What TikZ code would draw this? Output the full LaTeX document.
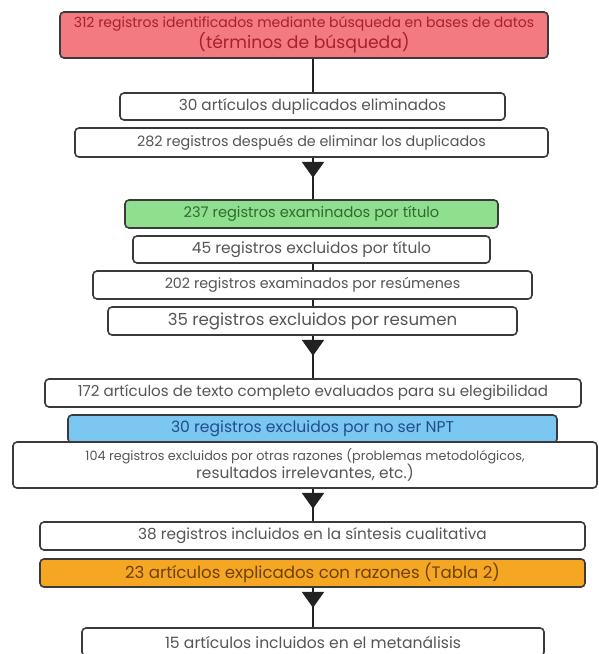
\documentclass[tikz,border=0pt]{standalone}
\usepackage{fontspec}
\setmainfont{Poppins}
\usetikzlibrary{arrows.meta,decorations.markings}

\definecolor{boxline}{HTML}{3A3A3A}
\definecolor{spinecol}{HTML}{222222}
\definecolor{txtgray}{HTML}{555555}
\definecolor{redfill}{HTML}{F27A80}
\definecolor{redtxt}{HTML}{A8202E}
\definecolor{greenfill}{HTML}{8FDF8F}
\definecolor{greentxt}{HTML}{2E6B2E}
\definecolor{bluefill}{HTML}{7CC6F2}
\definecolor{bluetxt}{HTML}{1F4E8C}
\definecolor{orangefill}{HTML}{F5A623}
\definecolor{orangetxt}{HTML}{6E4200}

\newcommand{\fsz}[2]{\fontsize{#1}{#2}\selectfont}

\tikzset{
  stage/.style={draw=boxline, line width=1.6pt, rounded corners=4pt,
    fill=white, text=txtgray, inner sep=0pt, align=center},
  spine/.style={draw=spinecol, line width=2.4pt},
  flow/.style={spine, decoration={markings,
    mark=at position 20pt with {\arrow{Triangle[width=22pt,length=16pt]}}},
    postaction={decorate}},
}

\begin{document}
\begin{tikzpicture}[x=1pt,y=-1pt]
  \useasboundingbox[fill=white] (0,0) rectangle (599,654);
  \coordinate (axis) at (313,0);
  % Identificación
  \node[stage, fill=redfill, text=redtxt, minimum width=488pt, minimum height=46pt] (red) at (304,35)
    {{\fsz{14}{18}312 registros identificados mediante búsqueda en bases de datos}\\
     {\fsz{17.2}{17}(términos de búsqueda)}};
  \node[stage, minimum width=385pt, minimum height=27pt, font=\fsz{15.3}{16}] (dup) at (312.5,106.5)
    {30 artículos duplicados eliminados};
  \node[stage, minimum width=473pt, minimum height=29pt, font=\fsz{14.3}{15}] (after) at (311.5,142.5)
    {282 registros después de eliminar los duplicados};
  % Cribado
  \node[stage, fill=greenfill, text=greentxt, minimum width=373pt, minimum height=28pt, font=\fsz{14.6}{15}] (green) at (311.5,214)
    {237 registros examinados por título};
  \node[stage, minimum width=357pt, minimum height=27pt, font=\fsz{15.4}{16}] (exTit) at (311.5,249.5)
    {45 registros excluidos por título};
  \node[stage, minimum width=439pt, minimum height=28pt, font=\fsz{14.3}{16}] (resum) at (312.5,285)
    {202 registros examinados por resúmenes};
  \node[stage, minimum width=409pt, minimum height=28pt, font=\fsz{16.6}{17}] (exRes) at (312.5,321)
    {35 registros excluidos por resumen};
  % Elegibilidad
  \node[stage, minimum width=536pt, minimum height=28pt, font=\fsz{15.1}{16}] (full) at (313,393)
    {172 artículos de texto completo evaluados para su elegibilidad};
  \node[stage, fill=bluefill, text=bluetxt, minimum width=489pt, minimum height=28pt, font=\fsz{15.6}{16}] (npt) at (312.5,429)
    {30 registros excluidos por no ser NPT};
  \node[stage, minimum width=584pt, minimum height=46pt] (other) at (305,465)
    {{\fsz{12.8}{21}104 registros excluidos por otras razones (problemas metodológicos,}\\
     {\fsz{15.4}{21}resultados irrelevantes, etc.)}};
  % Inclusión
  \node[stage, minimum width=545pt, minimum height=28pt, font=\fsz{15.3}{16}] (incl) at (312.5,536)
    {38 registros incluidos en la síntesis cualitativa};
  \node[stage, fill=orangefill, text=orangetxt, minimum width=545pt, minimum height=28pt, font=\fsz{16.6}{17}] (orange) at (312.5,573)
    {23 artículos explicados con razones (Tabla 2)};
  \node[stage, minimum width=462pt, minimum height=28pt, font=\fsz{15.6}{16}] (meta) at (313,642)
    {15 artículos incluidos en el metanálisis};
  % Verbindungen
  \draw[spine] (red.south -| axis) -- (dup.north -| axis);
  \draw[flow] (after.south -| axis) -- (green.north -| axis);
  \draw[spine] (exTit.south -| axis) -- (resum.north -| axis);
  \draw[spine] (resum.south -| axis) -- (exRes.north -| axis);
  \draw[flow] (exRes.south -| axis) -- (full.north -| axis);
  \draw[flow] (other.south -| axis) -- (incl.north -| axis);
  \draw[flow] (orange.south -| axis) -- (meta.north -| axis);
\end{tikzpicture}
\end{document}
